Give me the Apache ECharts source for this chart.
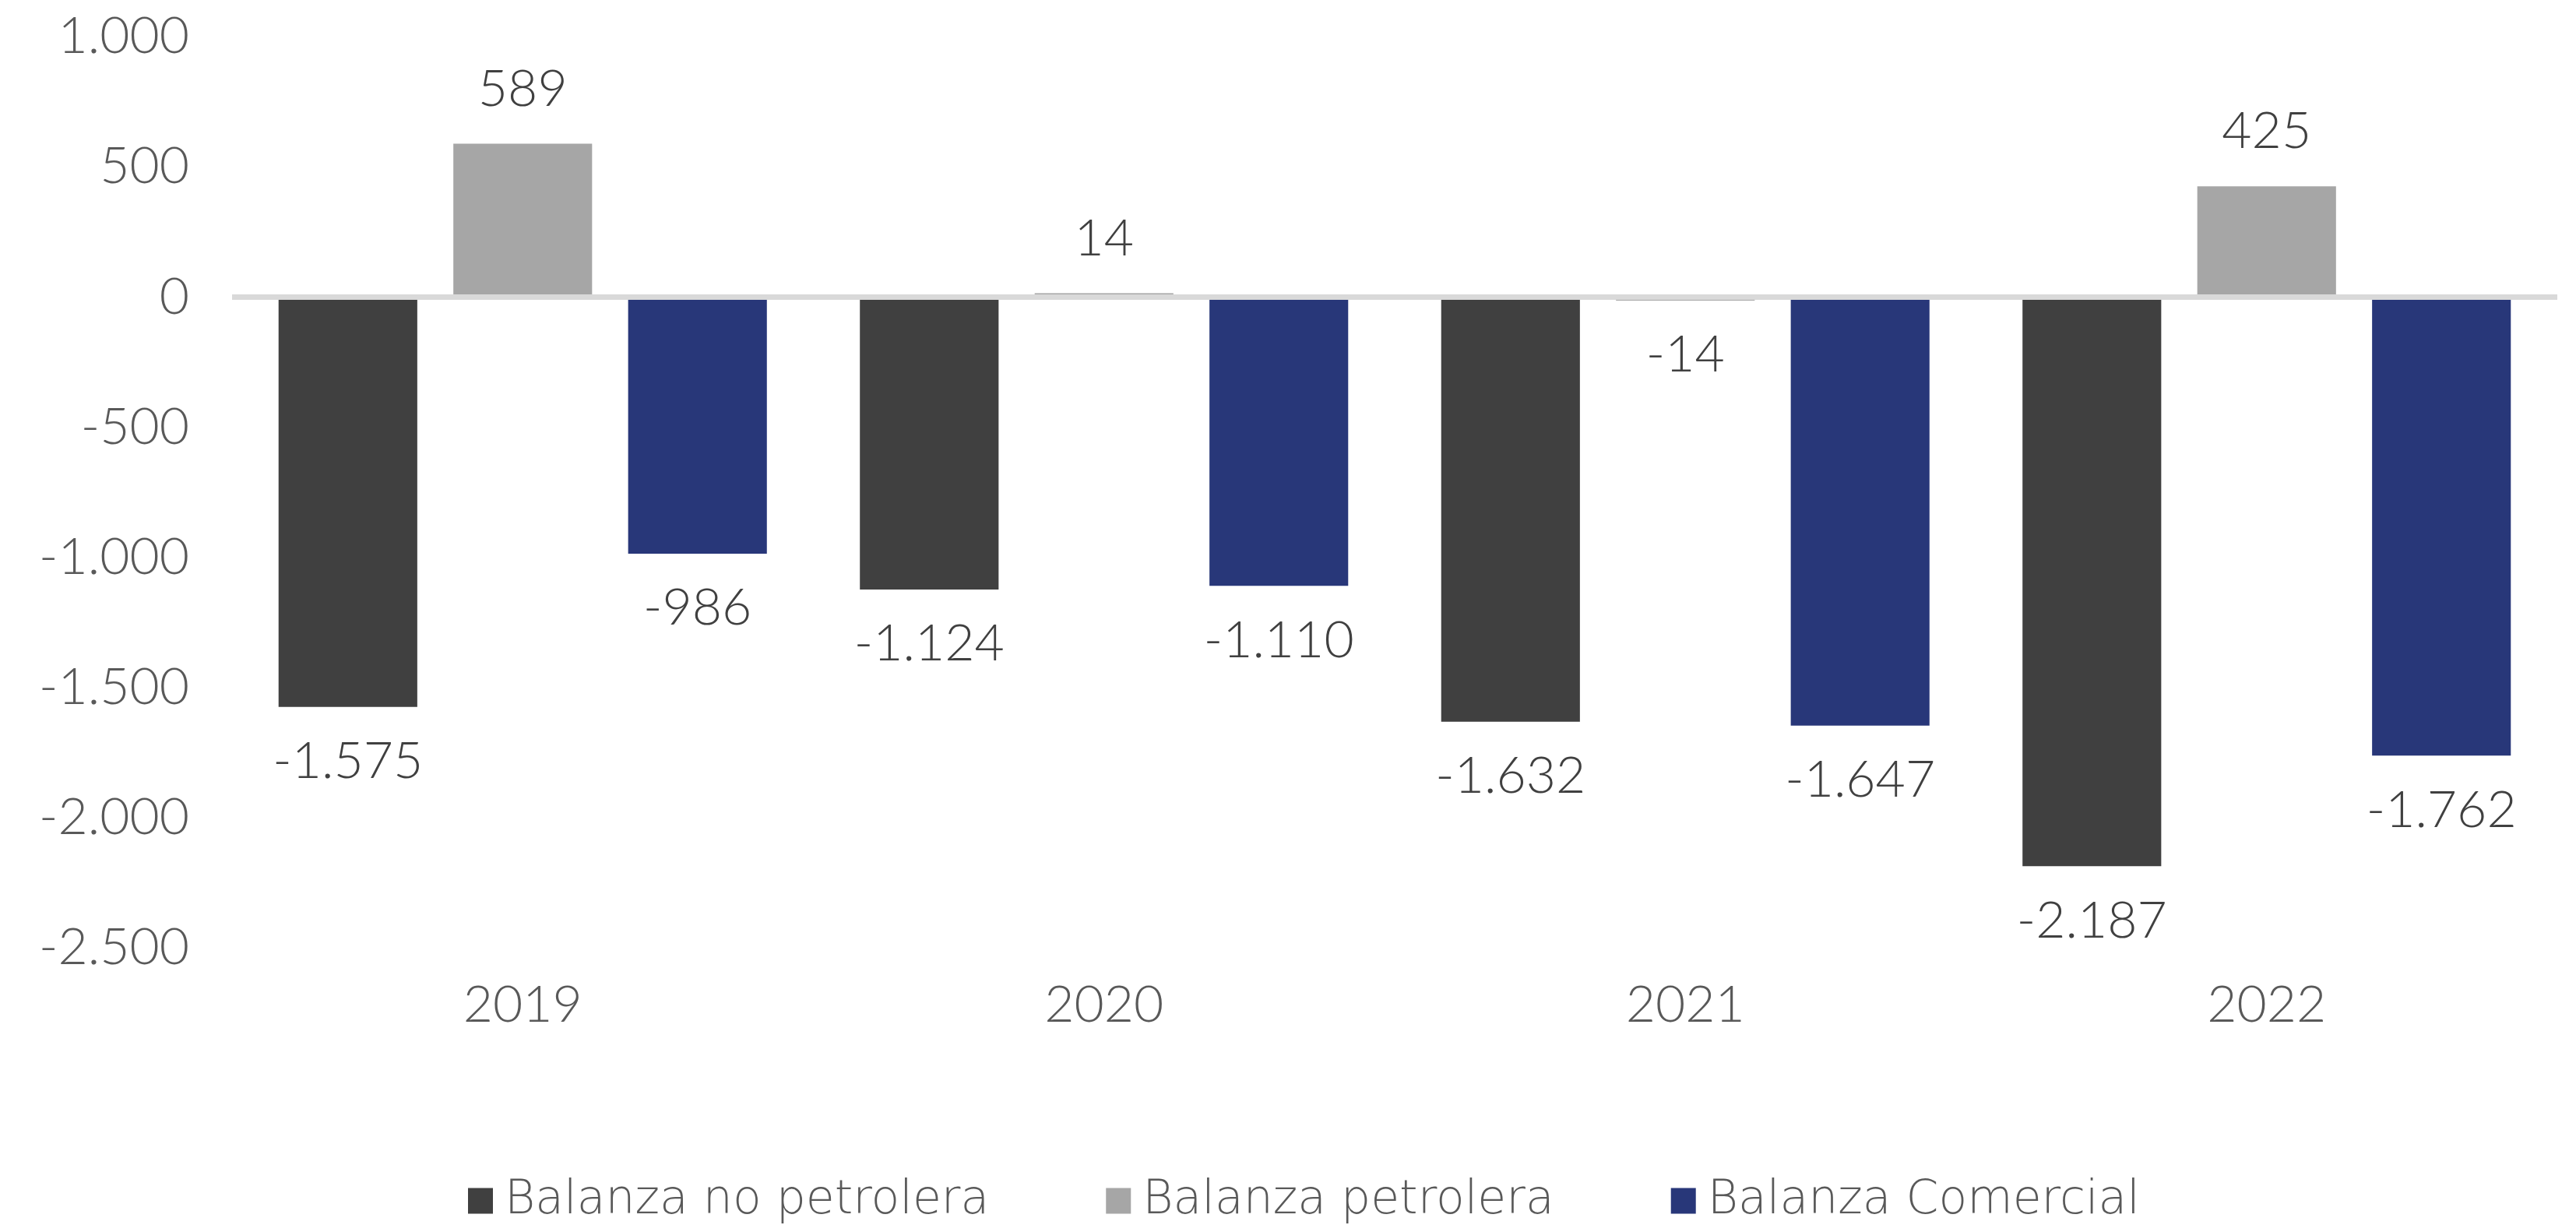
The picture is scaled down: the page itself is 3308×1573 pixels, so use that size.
<!DOCTYPE html>
<html>
<head>
<meta charset="utf-8">
<script src="https://cdn.jsdelivr.net/npm/echarts@6/dist/echarts.min.js"></script>
<style>
  html, body { margin: 0; padding: 0; background: #fff; }
  #chart { width: 3308px; height: 1573px; }
</style>
</head>
<body>
<div id="chart"></div>
<script>
var years = ['2019', '2020', '2021', '2022'];
var noPetrolera = [-1575, -1124, -1632, -2187];
var petrolera = [589, 14, -14, 425];
var comercial = [-986, -1110, -1647, -1762];
var yTicks = { min: -2500, max: 1000, step: 500 };

// miles con punto: 1.000, -1.575
function fmt(v) {
    var s = String(Math.abs(v)).replace(/\B(?=(\d{3})+(?!\d))/g, '.');
    return (v < 0 ? '-' : '') + s;
}

var FONT = 'Lato';
var labelCfg = {
    show: true,
    position: 'outside',
    distance: 37,
    color: '#404040',
    fontFamily: FONT,
    fontWeight: 300,
    fontSize: 66,
    lineHeight: 66,
    formatter: function (p) { return fmt(p.value); }
};

var myChart = echarts.init(document.getElementById('chart'));
var option = {
    animation: false,
    color: ['#404040', '#a6a6a6', '#283779'],
    grid: { left: 298, right: 24, top: 47, bottom: 356, containLabel: false },
    legend: {
        top: 1507,
        left: 596,
        itemWidth: 32,
        itemHeight: 33,
        itemGap: 150,
        icon: 'rect',
        textStyle: { fontFamily: 'DejaVu Sans', fontWeight: 200, fontSize: 60, lineHeight: 60, color: '#595959', padding: [0, 0, 0, 10] },
        data: ['Balanza no petrolera', 'Balanza petrolera', 'Balanza Comercial']
    },
    xAxis: {
        type: 'category',
        data: years,
        axisLine: { show: false, onZero: false },
        axisTick: { show: false },
        axisLabel: { margin: 41, color: '#595959', fontFamily: FONT, fontWeight: 300, fontSize: 66, lineHeight: 66 }
    },
    yAxis: {
        type: 'value',
        min: yTicks.min,
        max: yTicks.max,
        interval: yTicks.step,
        splitLine: { show: false },
        axisLine: { show: false },
        axisTick: { show: false },
        axisLabel: { margin: 55, color: '#595959', fontFamily: FONT, fontWeight: 300, fontSize: 66, formatter: fmt }
    },
    series: [
        {
            name: 'Balanza no petrolera',
            type: 'bar',
            barCategoryGap: '16%',
            barGap: '26%',
            label: labelCfg,
            data: noPetrolera,
            markLine: {
                silent: true,
                symbol: 'none',
                label: { show: false },
                lineStyle: { color: '#d9d9d9', width: 7, type: 'solid' },
                data: [{ yAxis: 0 }]
            }
        },
        {
            name: 'Balanza petrolera',
            type: 'bar',
            barCategoryGap: '16%',
            barGap: '26%',
            label: labelCfg,
            data: petrolera
        },
        {
            name: 'Balanza Comercial',
            type: 'bar',
            barCategoryGap: '16%',
            barGap: '26%',
            label: labelCfg,
            data: comercial
        }
    ]
};
myChart.setOption(option);
</script>
</body>
</html>
